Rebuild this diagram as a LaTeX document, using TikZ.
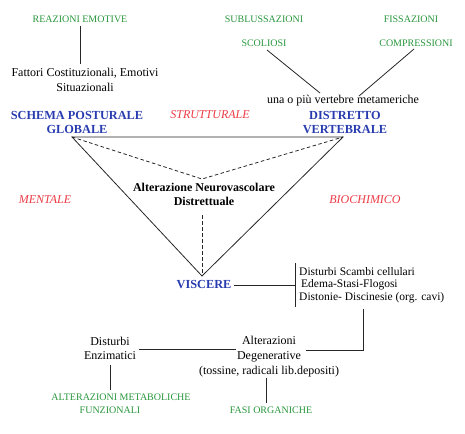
\documentclass[tikz,border=0pt]{standalone}
\usepackage{fontspec}
\setmainfont{Liberation Serif}
\definecolor{tgreen}{RGB}{40,150,60}
\definecolor{tblue}{RGB}{40,60,175}
\definecolor{tred}{RGB}{235,60,70}
\begin{document}
\begin{tikzpicture}[x=1pt,y=-1pt,
  gtxt/.style={text=tgreen,font=\fontsize{10}{13}\selectfont,inner sep=1pt,align=center},
  btxt/.style={text=tblue,font=\fontsize{12.3}{14}\selectfont\bfseries,inner sep=1pt,align=center},
  rtxt/.style={text=tred,font=\fontsize{12}{14}\selectfont\itshape,inner sep=1pt},
  ktxt/.style={text=black,font=\fontsize{12}{15}\selectfont,inner sep=1pt,align=center},
  kbold/.style={text=black,font=\fontsize{12}{14}\selectfont\bfseries,inner sep=1pt,align=center},
  ln/.style={draw=black!85,line width=0.8pt},
  dl/.style={draw=black!85,line width=0.8pt,dash pattern=on 3.5pt off 2.5pt}]
\useasboundingbox (0,0) rectangle (465,433);
% top left
\node[gtxt] (reaz) at (80,19) {REAZIONI EMOTIVE};
\node[ktxt] (fatt) at (85,79.5) {Fattori Costituzionali, Emotivi\\Situazionali};
\coordinate (fattop) at (80,64);
\coordinate (reazb) at (80,26);
\draw[ln] (reazb) -- (fattop);
\node[btxt] (schema) at (77,122) {SCHEMA POSTURALE\\GLOBALE};
\node[rtxt] (strut) at (210,115) {STRUTTURALE};
% top right
\node[gtxt] (subl) at (264,19) {SUBLUSSAZIONI};
\node[gtxt] (fiss) at (411,19) {FISSAZIONI};
\node[gtxt] (scol) at (264,43) {SCOLIOSI};
\node[gtxt] (comp) at (416,43) {COMPRESSIONI};
\node[ktxt] (una) at (343,101) {una o più vertebre metameriche};
\node[btxt] (distr) at (345,122.5) {DISTRETTO\\VERTEBRALE};
\coordinate (scolb) at (267,50);
\coordinate (unal) at (320,93);
\coordinate (compb) at (414,49);
\coordinate (unar) at (359,96);
\draw[ln] (scolb) -- (unal);
\draw[ln] (compb) -- (unar);
% triangle
\coordinate (tl) at (72,137);
\coordinate (tr) at (343,137);
\coordinate (bt) at (202,276);
\coordinate (mid) at (202,179);
\draw[ln] (tl) -- (tr) -- (bt) -- cycle;
\draw[dl] (tl) -- (mid) -- (tr);
\node[kbold] (alt) at (204,194) {Alterazione Neurovascolare\\Distrettuale};
\coordinate (altb) at (202,215);
\draw[dl] (altb) -- (bt);
\node[rtxt] (ment) at (45,200) {MENTALE};
\node[rtxt] (bioc) at (365,200) {BIOCHIMICO};
% viscere
\node[btxt] (visc) at (204,285) {VISCERE};
\coordinate (brt) at (295,263);
\coordinate (brm) at (295,285);
\coordinate (brb) at (295,307);
\draw[ln] ([xshift=1pt]visc.east) -- (visc.east -| brm);
\draw[ln] (brt) -- (brb);
\node[ktxt,font=\fontsize{11.5}{14}\selectfont,anchor=west] (dist1) at (298,272) {Disturbi Scambi cellulari};
\node[ktxt,font=\fontsize{11.5}{14}\selectfont,anchor=west] (dist2) at (300,285) {Edema-Stasi-Flogosi};
\node[ktxt,font=\fontsize{11.5}{14}\selectfont,anchor=west] (dist3) at (298,298) {Distonie- Discinesie (org. cavi)};
% bottom
\node[ktxt,font=\fontsize{12}{13.5}\selectfont] (enz) at (110,348.5) {Disturbi\\Enzimatici};
\node[ktxt,font=\fontsize{12}{15}\selectfont] (degen) at (269,357) {Alterazioni\\Degenerative\\(tossine, radicali lib.depositi)};
\coordinate (d3) at (363,309);
\coordinate (dcorner) at (363,350);
\coordinate (degr) at (306,350);
\draw[ln] (d3) -- (dcorner) -- (degr);
\coordinate (enzr) at (139,349.5);
\coordinate (degl) at (236,349.5);
\draw[ln] (enzr) -- (degl);
\node[gtxt] (metab) at (121,397) {ALTERAZIONI METABOLICHE};
\node[gtxt] (funz) at (110,410) {FUNZIONALI};
\coordinate (enzb) at (110,365);
\coordinate (metabt) at (110,390);
\draw[ln] (enzb) -- (metabt);
\node[gtxt] (fasi) at (271,410) {FASI ORGANICHE};
\coordinate (degb) at (266,378);
\coordinate (fasit) at (266,403);
\draw[ln] (degb) -- (fasit);
\end{tikzpicture}
\end{document}
